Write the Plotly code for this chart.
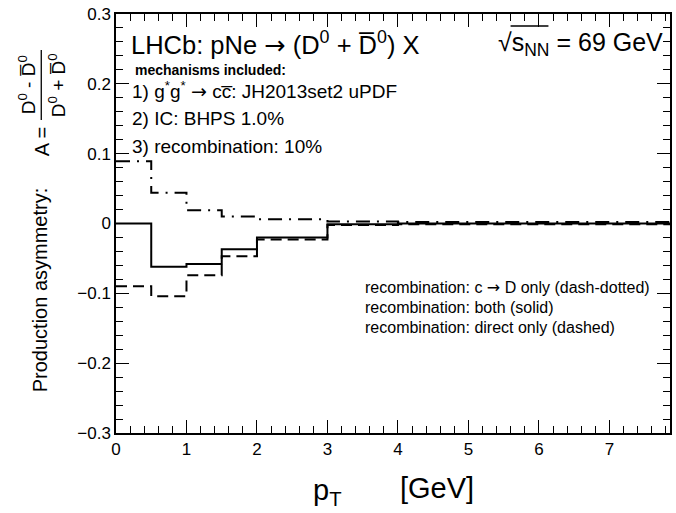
import plotly.graph_objects as go

# pT bin edges [GeV] and asymmetry per bin for the three recombination options
pt_edges = [0.0, 0.5, 1.0, 1.5, 2.0, 3.0, 4.0, 5.0, 6.0, 7.0, 8.0]
asym_c_to_D = [0.089, 0.044, 0.019, 0.010, 0.006, 0.003, 0.002, 0.002, 0.002, 0.002]
asym_both = [0.0, -0.062, -0.058, -0.037, -0.020, -0.001, 0.0, 0.0, 0.0, 0.0]
asym_direct = [-0.090, -0.104, -0.074, -0.047, -0.023, -0.002, -0.001, -0.001, -0.001, -0.001]

x_ticks = [0, 1, 2, 3, 4, 5, 6, 7]
y_ticks = [-0.3, -0.2, -0.1, 0.0, 0.1, 0.2, 0.3]
y_tick_text = ["\u22120.3", "\u22120.2", "\u22120.1", "0", "0.1", "0.2", "0.3"]

W, H = 676, 513
L, R, T, B = 116, 4, 14, 80
PW, PH = W - L - R, H - T - B


def px(x):
    return (x - L) / PW


def py(y):
    return (H - B - y) / PH


FONT = "Liberation Sans, Arial, Helvetica, sans-serif"
ARROW = '<span style="font-family:DejaVu Sans">\u2192</span>'

fig = go.Figure()


def step(vals):
    return vals + [vals[-1]]


for vals, dash in [
    (asym_c_to_D, "14px,7px,2px,7px"),
    (asym_both, "solid"),
    (asym_direct, "11px,6px"),
]:
    fig.add_trace(go.Scatter(
        x=pt_edges, y=step(vals), mode="lines", line_shape="hv",
        line=dict(color="black", width=2, dash=dash),
        showlegend=False, hoverinfo="skip", cliponaxis=True,
    ))

axis_common = dict(
    showline=True, linecolor="black", linewidth=1.5, mirror="allticks",
    ticks="inside", tickcolor="black", tickwidth=1,
    showgrid=False, zeroline=False,
    tickfont=dict(family=FONT, size=17, color="black"),
)

fig.update_xaxes(
    range=[0, 7.86], tickvals=x_ticks, ticklen=13,
    minor=dict(ticks="inside", dtick=0.2, ticklen=7, tickcolor="black", tickwidth=1),
    **axis_common,
)
fig.update_yaxes(
    range=[-0.3, 0.3], tickvals=y_ticks, ticktext=y_tick_text, ticklen=13,
    minor=dict(ticks="inside", dtick=0.02, ticklen=7, tickcolor="black", tickwidth=1),
    **axis_common,
)

ann = []


def text(t, x, y, size, xanchor="left", yanchor="middle", angle=0):
    ann.append(dict(
        text=t, x=px(x), y=py(y), xref="paper", yref="paper",
        xanchor=xanchor, yanchor=yanchor, showarrow=False, textangle=angle,
        font=dict(family=FONT, size=size, color="black"),
    ))


text(f"LHCb: pNe {ARROW} (D<sup>0</sup> + D\u0305<sup>0</sup>) X", 129, 43, 25.5)
text("\u221as<sub>NN</sub> = 69 GeV", 667, 44, 25, xanchor="right")
text("<b>mechanisms included:</b>", 133, 70, 14)
text(f"1) g<sup>*</sup>g<sup>*</sup> {ARROW} cc\u0305: JH2013set2 uPDF", 130, 90, 19)
text("2) IC: BHPS 1.0%", 130, 118, 19)
text("3) recombination: 10%", 130, 146, 19)

text(f"recombination: c {ARROW} D only (dash-dotted)", 364, 287, 16)
text("recombination: both (solid)", 364, 307, 16)
text("recombination: direct only (dashed)", 364, 327, 16)

# axis titles
text("p<sub>T</sub>", 328, 492, 29, xanchor="center")
text("[GeV]", 438, 488, 29, xanchor="center")
text("Production asymmetry:", 40, 290, 20, xanchor="center", angle=-90)
text("A =", 42, 142, 20, xanchor="center", angle=-90)
text("D<sup>0</sup> - D\u0305<sup>0</sup>", 27, 85, 19, xanchor="center", angle=-90)
text("D<sup>0</sup> + D\u0305<sup>0</sup>", 57, 85, 19, xanchor="center", angle=-90)

shapes = [
    # fraction bar of the asymmetry definition
    dict(type="line", xref="paper", yref="paper", x0=px(41), x1=px(41), y0=py(50), y1=py(120),
         line=dict(color="black", width=1.3)),
    # radical bar over s_NN
    dict(type="line", xref="paper", yref="paper", x0=px(512), x1=px(550), y0=py(26), y1=py(26),
         line=dict(color="black", width=1.3)),
]

fig.update_layout(
    width=W, height=H,
    margin=dict(l=L, r=R, t=T, b=B, pad=0),
    paper_bgcolor="white", plot_bgcolor="white",
    annotations=ann, shapes=shapes,
    font=dict(family=FONT, color="black"),
)

fig.write_html("out.html")
